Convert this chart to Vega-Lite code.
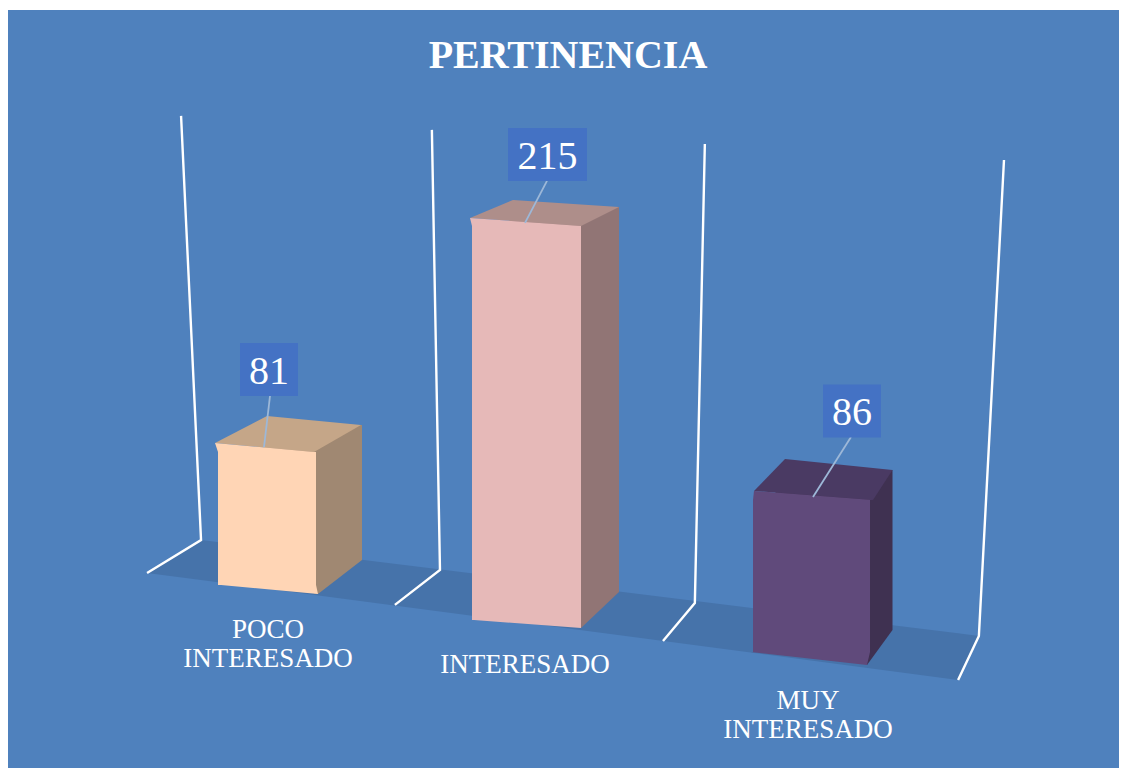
{"$schema":"https://vega.github.io/schema/vega-lite/v6.json","width":1111,"height":758,"padding":{"left":8,"top":10,"right":2,"bottom":2},"autosize":{"type":"none"},"background":"#ffffff","view":{"fill":"#4F81BD","stroke":null},"config":{"view":{"stroke":null}},"title":{"text":"PERTINENCIA","orient":"top","anchor":"middle","color":"#ffffff","font":"Liberation Serif","fontWeight":"bold","fontSize":40,"dx":4.5,"dy":66,"offset":0},"datasets":{"responses":[{"category":"POCO INTERESADO","value":81},{"category":"INTERESADO","value":215},{"category":"MUY INTERESADO","value":86}],"floor":[{"slot":0.515,"back":41.2,"front":41.2},{"slot":0.715,"back":58.8,"front":37.4},{"slot":3.519,"back":8.9,"front":-16},{"slot":3.596,"back":7.5,"front":7.5}],"walls":[{"wall":1,"step":1,"slot":0.515,"level":41.2},{"wall":1,"step":2,"slot":0.715,"level":58.8},{"wall":1,"step":3,"slot":0.641,"level":285.6},{"wall":2,"step":1,"slot":1.433,"level":24.1},{"wall":2,"step":2,"slot":1.6,"level":42.8},{"wall":2,"step":3,"slot":1.57,"level":278.1},{"wall":3,"step":1,"slot":2.426,"level":4.8},{"wall":3,"step":2,"slot":2.544,"level":25.1},{"wall":3,"step":3,"slot":2.581,"level":270.6},{"wall":4,"step":1,"slot":3.519,"level":-16},{"wall":4,"step":2,"slot":3.596,"level":7.5},{"wall":4,"step":3,"slot":3.689,"level":262}]},"resolve":{"scale":{"x":"independent"}},"layer":[{"layer":[{"data":{"name":"floor"},"mark":{"type":"area","color":"#4673AA"},"encoding":{"x":{"field":"slot","type":"quantitative","axis":null,"scale":{"domain":[0,4.115],"nice":false,"zero":false}},"y":{"field":"back","type":"quantitative","axis":null,"scale":{"domain":[-63.1,342.2],"nice":false,"zero":false}},"y2":{"field":"front"}}},{"data":{"name":"walls"},"mark":{"type":"line","color":"#ffffff","strokeWidth":2.4,"interpolate":"linear"},"encoding":{"x":{"field":"slot","type":"quantitative","axis":null,"scale":{"domain":[0,4.115],"nice":false,"zero":false}},"y":{"field":"level","type":"quantitative","axis":null},"detail":{"field":"wall"},"order":{"field":"step"}}}]},{"data":{"name":"responses"},"encoding":{"x":{"field":"category","type":"nominal","axis":null,"sort":null,"scale":{"range":[122,938],"paddingInner":0.6,"paddingOuter":0.3}},"y":{"field":"value","type":"quantitative","axis":null,"stack":null}},"layer":[{"mark":{"type":"bar","xOffset":{"expr":"{'POCO INTERESADO':47,'INTERESADO':26.5,'MUY INTERESADO':24}[datum.category]"},"yOffset":{"expr":"{'POCO INTERESADO':-73.5,'INTERESADO':-41,'MUY INTERESADO':-19.2}[datum.category]"},"y2Offset":{"expr":"{'POCO INTERESADO':-90,'INTERESADO':-58,'MUY INTERESADO':-20}[datum.category]"},"width":{"expr":"{'POCO INTERESADO':98,'INTERESADO':109,'MUY INTERESADO':117}[datum.category]"}},"encoding":{"y2":{"datum":0},"color":{"field":"category","type":"nominal","legend":null,"sort":null,"scale":{"domain":["POCO INTERESADO","INTERESADO","MUY INTERESADO"],"range":["#A08872","#917575","#3F3151"]}}}},{"mark":{"type":"point","filled":true,"size":4,"opacity":1,"xOffset":{"expr":"{'POCO INTERESADO':1,'INTERESADO':-11.5,'MUY INTERESADO':1.5}[datum.category]"},"yOffset":{"expr":"{'POCO INTERESADO':-65,'INTERESADO':-30,'MUY INTERESADO':2}[datum.category]"},"shape":{"expr":"{'POCO INTERESADO':'M51,9L95,-25L47,-25L47,8.6Z','INTERESADO':'M54.5,8L92.5,-28L54.5,-28Z','MUY INTERESADO':'M55.5,13L81,-22L55,-22Z'}[datum.category]"},"fill":{"expr":"{'POCO INTERESADO':'#A08872','INTERESADO':'#917575','MUY INTERESADO':'#3F3151'}[datum.category]"}},"encoding":{"y":{"datum":0}}},{"mark":{"type":"point","filled":true,"size":4,"opacity":1,"xOffset":{"expr":"{'POCO INTERESADO':1,'INTERESADO':-11.5,'MUY INTERESADO':1.5}[datum.category]"},"yOffset":{"expr":"{'POCO INTERESADO':-46.5,'INTERESADO':-22,'MUY INTERESADO':10.8}[datum.category]"},"shape":{"expr":"{'POCO INTERESADO':'M-52,-9L0,-36L94,-27L47,0Z','INTERESADO':'M-56.5,-8L-13.5,-26L92.5,-19L54.5,0Z','MUY INTERESADO':'M-57.5,-9L-26.5,-41L81,-30L61.5,0Z'}[datum.category]"},"fill":{"expr":"{'POCO INTERESADO':'#C5A688','INTERESADO':'#AE8E8A','MUY INTERESADO':'#4A3A63'}[datum.category]"}}},{"mark":{"type":"bar","xOffset":{"expr":"{'POCO INTERESADO':1,'INTERESADO':-11.5,'MUY INTERESADO':1.5}[datum.category]"},"yOffset":{"expr":"{'POCO INTERESADO':-46.5,'INTERESADO':-22,'MUY INTERESADO':10.8}[datum.category]"},"y2Offset":{"expr":"{'POCO INTERESADO':-65,'INTERESADO':-30,'MUY INTERESADO':2}[datum.category]"},"width":{"expr":"{'POCO INTERESADO':98,'INTERESADO':109,'MUY INTERESADO':117}[datum.category]"},"fill":{"expr":"{'POCO INTERESADO':'#FFD5B5','INTERESADO':'#E6B9B8','MUY INTERESADO':'#604A7B'}[datum.category]"}},"encoding":{"y2":{"datum":0}}},{"mark":{"type":"point","filled":true,"size":4,"opacity":1,"xOffset":{"expr":"{'POCO INTERESADO':1,'INTERESADO':-11.5,'MUY INTERESADO':1.5}[datum.category]"},"yOffset":{"expr":"{'POCO INTERESADO':-46.5,'INTERESADO':-22,'MUY INTERESADO':10.8}[datum.category]"},"shape":{"expr":"{'POCO INTERESADO':'M-52,-9L47,0L-49,0Z','INTERESADO':'M-56.5,-8L54.5,0L-54.5,0Z','MUY INTERESADO':'M-57.5,-9L61.5,0L-58.5,0Z'}[datum.category]"},"fill":{"expr":"{'POCO INTERESADO':'#FFD5B5','INTERESADO':'#E6B9B8','MUY INTERESADO':'#604A7B'}[datum.category]"}}},{"mark":{"type":"point","filled":true,"size":4,"opacity":1,"xOffset":{"expr":"{'POCO INTERESADO':1,'INTERESADO':-11.5,'MUY INTERESADO':1.5}[datum.category]"},"yOffset":{"expr":"{'POCO INTERESADO':-65,'INTERESADO':-30,'MUY INTERESADO':2}[datum.category]"},"shape":{"expr":"{'POCO INTERESADO':'M-46,0L51,9L49,0Z','INTERESADO':'M-52.5,0L54.5,8L54.5,0Z','MUY INTERESADO':'M-60.5,0L55.5,13L58.5,0Z'}[datum.category]"},"fill":{"expr":"{'POCO INTERESADO':'#FFD5B5','INTERESADO':'#E6B9B8','MUY INTERESADO':'#604A7B'}[datum.category]"}},"encoding":{"y":{"datum":0}}},{"mark":{"type":"point","filled":false,"size":4,"opacity":1,"stroke":"#9DB8D8","strokeWidth":1.8,"xOffset":{"expr":"{'POCO INTERESADO':3,'INTERESADO':9.5,'MUY INTERESADO':42}[datum.category]"},"yOffset":{"expr":"{'POCO INTERESADO':-129,'INTERESADO':-93.5,'MUY INTERESADO':-78.2}[datum.category]"},"shape":{"expr":"{'POCO INTERESADO':'M1,26.5L-5,77.5','INTERESADO':'M-0.5,26.5L-22.5,68.5','MUY INTERESADO':'M-1,26L-39,86'}[datum.category]"}}},{"mark":{"type":"point","filled":true,"size":4,"opacity":1,"fill":"#4472C4","xOffset":{"expr":"{'POCO INTERESADO':3,'INTERESADO':9.5,'MUY INTERESADO':42}[datum.category]"},"yOffset":{"expr":"{'POCO INTERESADO':-129,'INTERESADO':-93.5,'MUY INTERESADO':-78.2}[datum.category]"},"shape":{"expr":"datum.value>=100?'M-39.5,-26.5L39.5,-26.5L39.5,26.5L-39.5,26.5Z':'M-29,-26.5L29,-26.5L29,26.5L-29,26.5Z'"}}},{"mark":{"type":"text","font":"Liberation Serif","fontSize":40,"color":"#ffffff","baseline":"middle","align":"center","xOffset":{"expr":"{'POCO INTERESADO':3,'INTERESADO':9.5,'MUY INTERESADO':42}[datum.category]"},"yOffset":{"expr":"{'POCO INTERESADO':-127,'INTERESADO':-91,'MUY INTERESADO':-76}[datum.category]"}},"encoding":{"text":{"field":"value","type":"quantitative"}}},{"mark":{"type":"text","font":"Liberation Serif","fontSize":27,"color":"#ffffff","baseline":"middle","align":"center","lineBreak":" ","lineHeight":29,"xOffset":{"expr":"{'POCO INTERESADO':2,'INTERESADO':-13,'MUY INTERESADO':-2}[datum.category]"},"yOffset":{"expr":"{'POCO INTERESADO':-20,'INTERESADO':15,'MUY INTERESADO':51}[datum.category]"}},"encoding":{"y":{"datum":0},"text":{"field":"category","type":"nominal"}}}]}]}
